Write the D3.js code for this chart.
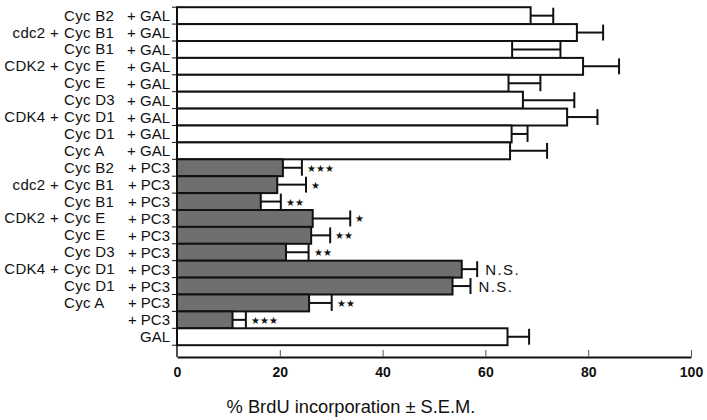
<!DOCTYPE html>
<html><head><meta charset="utf-8">
<script src="https://cdn.jsdelivr.net/npm/d3@7"></script>
<style>
html,body{margin:0;padding:0;background:#fff;}
svg{display:block;}
text{font-family:"Liberation Sans",Arial,Helvetica,sans-serif;fill:#111;}
</style></head>
<body>
<svg id="chart" width="707" height="420"></svg>
<script>
// ---- data ----
const prefixes   = ["", "cdc2 +", "", "CDK2 +", "", "", "CDK4 +", "", "",
                    "", "cdc2 +", "", "CDK2 +", "", "", "CDK4 +", "", "", "", ""];
const cyclins    = ["Cyc B2", "Cyc B1", "Cyc B1", "Cyc E", "Cyc E", "Cyc D3", "Cyc D1", "Cyc D1", "Cyc A",
                    "Cyc B2", "Cyc B1", "Cyc B1", "Cyc E", "Cyc E", "Cyc D3", "Cyc D1", "Cyc D1", "Cyc A", "", ""];
const treatments = ["+ GAL", "+ GAL", "+ GAL", "+ GAL", "+ GAL", "+ GAL", "+ GAL", "+ GAL", "+ GAL",
                    "+ PC3", "+ PC3", "+ PC3", "+ PC3", "+ PC3", "+ PC3", "+ PC3", "+ PC3", "+ PC3", "+ PC3", "GAL"];
const means      = [68.8, 77.8, 65.2, 79.0, 64.5, 67.3, 75.9, 65.1, 64.8,
                    20.6, 19.5, 16.3, 26.4, 26.1, 21.2, 55.4, 53.6, 25.7, 10.8, 64.3];
const sems       = [4.4, 5.1, 9.4, 7.0, 6.2, 10.0, 5.9, 3.1, 7.2,
                    3.7, 5.6, 3.9, 7.3, 3.7, 4.4, 3.0, 3.5, 4.4, 2.6, 4.2];
const signif     = ["", "", "", "", "", "", "", "", "",
                    "★★★", "★", "★★", "★", "★★", "★★", "N.S.", "N.S.", "★★", "★★★", ""];
const isPC3      = treatments.map(t => t === "+ PC3");
const xTicks     = [0, 20, 40, 60, 80, 100];
const xTitle     = "% BrdU incorporation ± S.E.M.";

// ---- layout ----
const svg = d3.select("#chart");
const x0 = 177, x1 = 691, yTop = 7.2, yBot = 345.2, axisY = 357;
const idx = d3.range(means.length);
const x = d3.scaleLinear().domain([0, 100]).range([x0, x1]);
const y = d3.scaleBand().domain(idx).range([yTop, yBot]).padding(0);
const bw = y.bandwidth();

// bars
svg.append("g").selectAll("rect").data(idx).join("rect")
  .attr("x", x(0)).attr("y", i => y(i))
  .attr("width", i => x(means[i]) - x(0)).attr("height", bw)
  .attr("fill", i => isPC3[i] ? "#6f6f6f" : "#fff")
  .attr("stroke", "#111").attr("stroke-width", 2);

// error bars
const eg = svg.append("g").attr("stroke", "#111").attr("stroke-width", 2);
eg.selectAll("line.h").data(idx).join("line").attr("class", "h")
  .attr("x1", i => x(means[i])).attr("x2", i => x(means[i] + sems[i]))
  .attr("y1", i => y(i) + bw / 2).attr("y2", i => y(i) + bw / 2);
eg.selectAll("line.c").data(idx).join("line").attr("class", "c")
  .attr("x1", i => x(means[i] + sems[i])).attr("x2", i => x(means[i] + sems[i]))
  .attr("y1", i => y(i) + 0.5).attr("y2", i => y(i) + bw - 0.5);

// significance marks
const sg = svg.append("g");
sg.selectAll("text.star").data(idx.filter(i => signif[i] && signif[i] !== "N.S.")).join("text")
  .attr("class", "star")
  .attr("x", i => x(means[i] + sems[i]) + 5)
  .attr("y", i => y(i) + bw / 2 + 4)
  .attr("font-family", "'DejaVu Sans',sans-serif")
  .attr("font-size", 10).attr("letter-spacing", 0.3)
  .text(i => signif[i]);
sg.selectAll("text.ns").data(idx.filter(i => signif[i] === "N.S.")).join("text")
  .attr("class", "ns")
  .attr("x", i => x(means[i] + sems[i]) + 8)
  .attr("y", i => y(i) + bw / 2 + 5.8)
  .attr("font-size", 15).attr("letter-spacing", 1.4)
  .text(i => signif[i]);

// y axis (ticks at band boundaries)
const yb = svg.append("g").attr("stroke", "#111");
yb.append("line").attr("x1", x0).attr("x2", x0).attr("y1", yTop).attr("y2", axisY).attr("stroke-width", 1.5);
yb.selectAll("line.t").data(d3.range(means.length + 1)).join("line").attr("class", "t")
  .attr("x1", x0 - 5).attr("x2", x0)
  .attr("y1", k => yTop + k * bw).attr("y2", k => yTop + k * bw).attr("stroke-width", 1);

// labels
const lg = svg.append("g").attr("font-size", 15);
lg.selectAll("text.p").data(idx.filter(i => prefixes[i])).join("text").attr("class", "p")
  .attr("x", 59).attr("y", i => y(i) + bw / 2 + 5).attr("text-anchor", "end")
  .attr("letter-spacing", 0.3).text(i => prefixes[i]);
lg.selectAll("text.c").data(idx.filter(i => cyclins[i])).join("text").attr("class", "c")
  .attr("x", 64).attr("y", i => y(i) + bw / 2 + 5).attr("letter-spacing", 0.3).text(i => cyclins[i]);
lg.selectAll("text.t").data(idx).join("text").attr("class", "t")
  .attr("x", 170).attr("y", i => y(i) + bw / 2 + 5.5).attr("text-anchor", "end").text(i => treatments[i]);

// x axis
const xa = svg.append("g").attr("transform", `translate(0,${axisY})`)
  .call(d3.axisBottom(x).tickValues(xTicks).tickSize(0).tickPadding(10).tickFormat(d3.format("d")));
xa.select(".domain").attr("stroke", "#111").attr("stroke-width", 2);
xa.selectAll(".tick").append("line").attr("y1", 0).attr("y2", -7).attr("stroke", "#555").attr("stroke-width", 1);
xa.selectAll(".tick text").attr("font-size", 14).attr("font-weight", "bold")
  .attr("font-family", "'Liberation Sans',Arial,sans-serif").attr("fill", "#111");

svg.append("text").attr("x", 351).attr("y", 413).attr("text-anchor", "middle")
  .attr("font-size", 18.3).text(xTitle);
</script>
</body></html>
